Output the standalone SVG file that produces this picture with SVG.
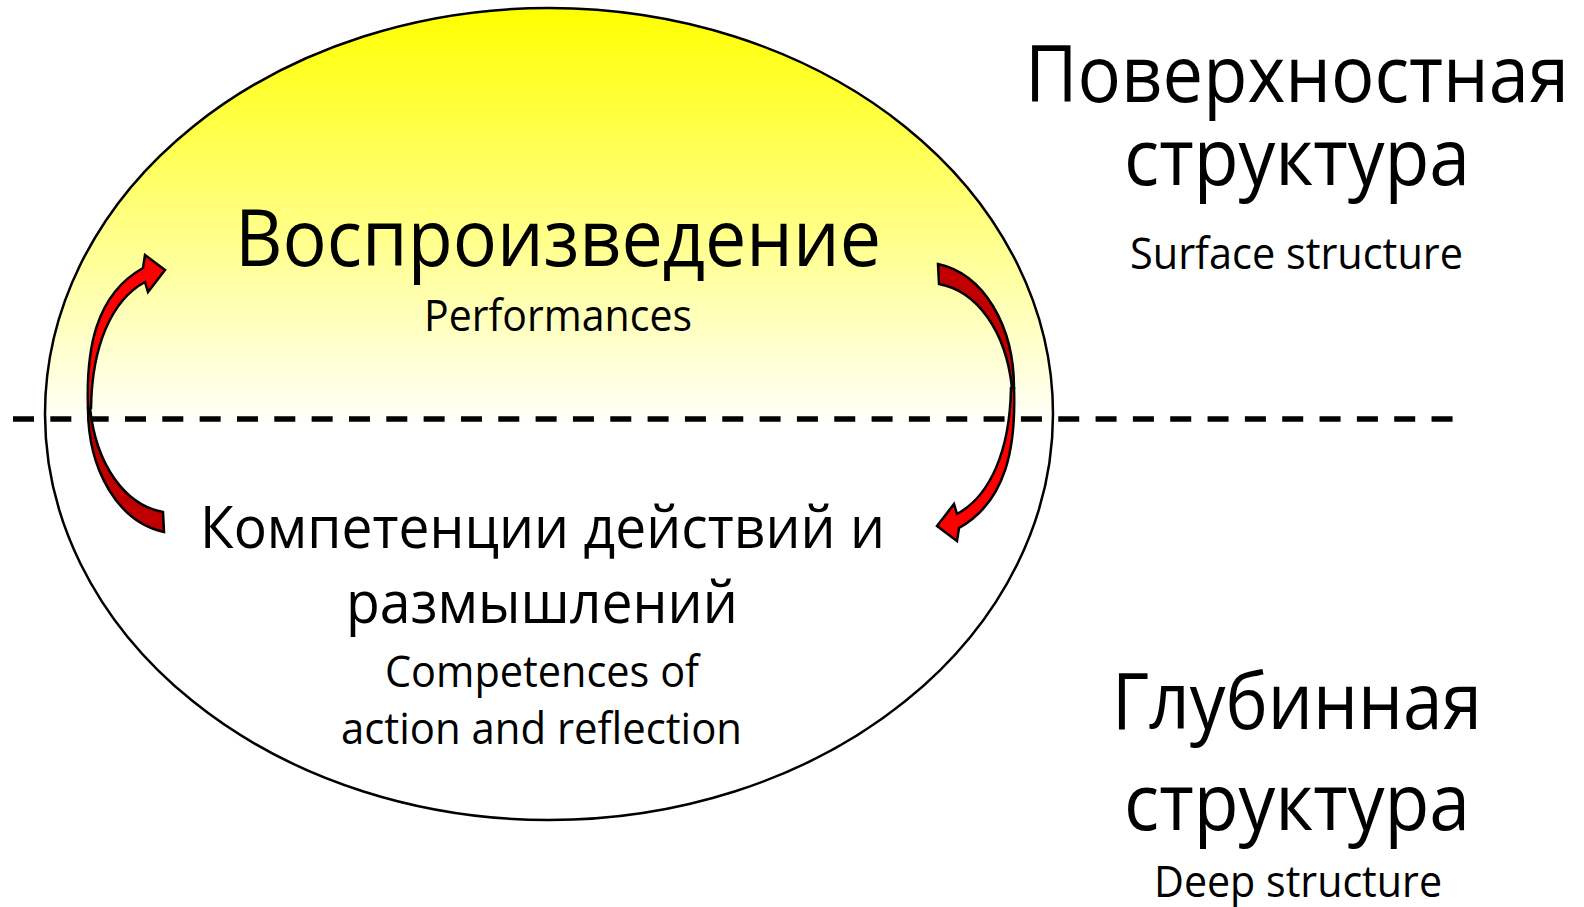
<svg xmlns="http://www.w3.org/2000/svg" width="1584" height="907" viewBox="0 0 1584 907">
<style>
text{font-family:"Open Sans","Noto Sans","DejaVu Sans",sans-serif;fill:#000;text-anchor:middle}
.big{font-size:79px}
.mid{font-size:58px}
.sm{font-size:43px}
.outline{stroke:#000;stroke-width:2.5;stroke-linejoin:miter}
.dark{fill:#C00000}
.bright{fill:#FF0000}
</style>
<defs>
<linearGradient id="yg" x1="0" y1="0" x2="0" y2="1">
<stop offset="0" stop-color="#FFFF00"/>
<stop offset="0.52" stop-color="#FFFFFF"/>
<stop offset="1" stop-color="#FFFFFF"/>
</linearGradient>
<g id="curvedArrow">
<path class="outline dark" d="M88,408 C88,470 118,522 164,532 L163,512 C125,505 96,465 90,408 Z"/>
<path class="outline bright" d="M88,408 C86,350 95,295 143,268 L145,255 L165,270 L148,292 L145,282 C112,300 92,345 91,408 Z"/>
</g>
</defs>
<g id="ellipse-node">
<ellipse cx="549" cy="414" rx="504" ry="406" fill="url(#yg)" stroke="#000" stroke-width="2.5"/>
</g>
<g id="divider">
<line x1="13" y1="419" x2="1453" y2="419" stroke="#000" stroke-width="5.5" stroke-dasharray="21 16.33"/>
</g>
<g id="connectors">
<use href="#curvedArrow"/>
<use href="#curvedArrow" transform="rotate(180 551 398)"/>
</g>
<g id="performances">
<text class="big" x="558" y="266" textLength="646" lengthAdjust="spacingAndGlyphs">Воспроизведение</text>
<text class="sm" x="558" y="331" textLength="268" lengthAdjust="spacingAndGlyphs">Performances</text>
</g>
<g id="competences">
<text class="mid" x="542.5" y="548" textLength="685" lengthAdjust="spacingAndGlyphs">Компетенции действий и</text>
<text class="mid" x="542" y="623" textLength="392" lengthAdjust="spacingAndGlyphs">размышлений</text>
<text class="sm" x="542" y="687" textLength="314" lengthAdjust="spacingAndGlyphs">Competences of</text>
<text class="sm" x="541.5" y="744" textLength="401" lengthAdjust="spacingAndGlyphs">action and reflection</text>
</g>
<g id="surface-structure">
<text class="big" x="1297" y="102" textLength="544" lengthAdjust="spacingAndGlyphs">Поверхностная</text>
<text class="big" x="1297" y="185" textLength="346" lengthAdjust="spacingAndGlyphs">структура</text>
<text class="sm" x="1296.5" y="269" textLength="333" lengthAdjust="spacingAndGlyphs">Surface structure</text>
</g>
<g id="deep-structure">
<text class="big" x="1297" y="729" textLength="370" lengthAdjust="spacingAndGlyphs">Глубинная</text>
<text class="big" x="1297" y="830" textLength="346" lengthAdjust="spacingAndGlyphs">структура</text>
<text class="sm" x="1298" y="897" textLength="288" lengthAdjust="spacingAndGlyphs">Deep structure</text>
</g>
</svg>
